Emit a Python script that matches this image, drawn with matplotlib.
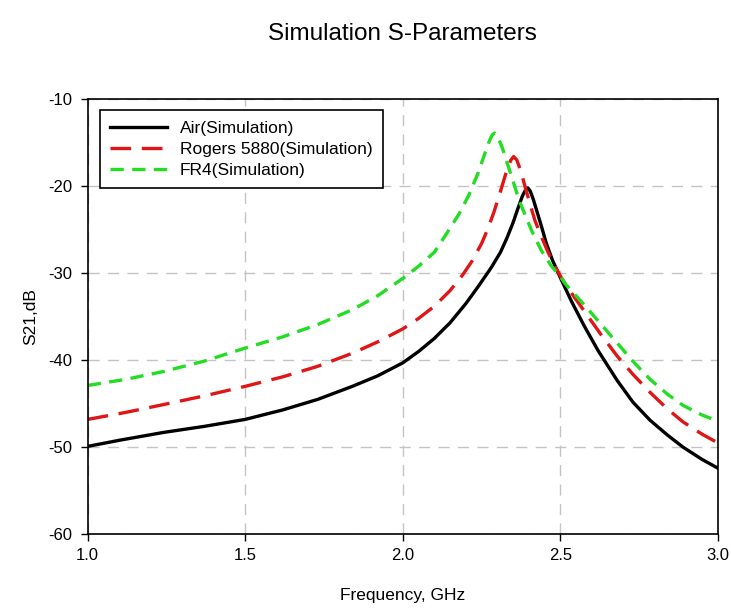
import numpy as np
import matplotlib.pyplot as plt

plt.rcParams['font.family'] = ['Liberation Sans', 'DejaVu Sans']
plt.rcParams['axes.unicode_minus'] = False

# Air (Simulation)
freq_air = [1.0, 1.1, 1.24, 1.37, 1.5, 1.62, 1.73, 1.84, 1.92, 2.0, 2.05, 2.1, 2.15,
            2.2, 2.24, 2.28, 2.31, 2.33, 2.35, 2.365, 2.38, 2.39, 2.397, 2.405, 2.415,
            2.425, 2.44, 2.455, 2.475, 2.5, 2.535, 2.575, 2.62, 2.68, 2.73, 2.785, 2.84,
            2.89, 2.95, 3.0]
s21_air = [-49.9, -49.2, -48.3, -47.6, -46.8, -45.7, -44.5, -43.0, -41.8, -40.3, -39.0, -37.5, -35.7,
           -33.5, -31.5, -29.4, -27.6, -26.0, -24.2, -22.6, -21.1, -20.4, -20.2, -20.6, -21.6,
           -22.8, -24.6, -26.5, -28.5, -30.5, -33.2, -36.0, -38.9, -42.3, -44.8, -46.9, -48.6,
           -50.0, -51.4, -52.4]

# Rogers 5880 (Simulation)
freq_rogers = [1.0, 1.12, 1.24, 1.37, 1.5, 1.62, 1.73, 1.84, 1.92, 2.0, 2.05, 2.1, 2.15,
               2.19, 2.22, 2.25, 2.27, 2.29, 2.31, 2.33, 2.343, 2.352, 2.362, 2.375, 2.39,
               2.405, 2.42, 2.44, 2.46, 2.48, 2.5, 2.52, 2.575, 2.63, 2.68, 2.73, 2.785,
               2.84, 2.89, 2.95, 3.0]
s21_rogers = [-46.8, -46.0, -45.1, -44.1, -43.0, -41.9, -40.7, -39.2, -37.9, -36.4, -35.2, -33.8, -32.0,
              -30.2, -28.6, -26.6, -24.9, -22.9, -20.6, -18.2, -17.0, -16.6, -17.0, -18.3, -20.3,
              -22.2, -24.0, -25.8, -27.5, -29.0, -30.3, -31.5, -34.3, -37.1, -39.5, -41.6, -43.7,
              -45.6, -47.1, -48.5, -49.5]

# FR4 (Simulation)
freq_fr4 = [1.0, 1.12, 1.24, 1.37, 1.5, 1.62, 1.73, 1.84, 1.92, 2.0, 2.05, 2.1, 2.14,
            2.18, 2.21, 2.24, 2.26, 2.275, 2.284, 2.292, 2.3, 2.315, 2.34, 2.37, 2.41,
            2.44, 2.47, 2.5, 2.52, 2.575, 2.63, 2.68, 2.73, 2.785, 2.84, 2.89, 2.95, 3.0]
s21_fr4 = [-42.9, -42.2, -41.3, -40.1, -38.6, -37.3, -35.9, -34.2, -32.6, -30.6, -29.2, -27.6, -25.4,
           -23.1, -21.0, -18.4, -16.3, -14.8, -14.1, -13.9, -14.2, -15.5, -18.3, -21.7, -25.2,
           -27.4, -29.1, -30.4, -31.4, -33.6, -35.9, -38.0, -40.1, -42.2, -43.9, -45.2, -46.3, -47.0]

fig = plt.figure(figsize=(7.31, 6.12), dpi=100)
ax = fig.add_axes([0.120, 0.127, 0.862, 0.711])

ax.plot(freq_air, s21_air, color='black', lw=2.4, label='Air(Simulation)')
ax.plot(freq_rogers, s21_rogers, color='#e01515', lw=2.4, dashes=(6.2, 3.2), label='Rogers 5880(Simulation)')
ax.plot(freq_fr4, s21_fr4, color='#22dd22', lw=2.4, dashes=(4.0, 2.5), label='FR4(Simulation)')

ax.set_xlim(1.0, 3.0)
ax.set_ylim(-60, -10)
ax.set_xticks(np.arange(1.0, 3.01, 0.5))
ax.set_xticklabels(['1.0', '1.5', '2.0', '2.5', '3.0'])
ax.set_yticks(range(-60, -9, 10))
ax.tick_params(direction='out', length=5, width=1, labelsize=12)
ax.tick_params(axis='x', pad=5)
ax.tick_params(axis='y', pad=6)
ax.grid(True, color='#c4c4c4', ls=(0, (8, 6)), lw=1)
for s in ax.spines.values():
    s.set_linewidth(1.2)

ax.set_xlabel('Frequency, GHz', fontsize=12.5, labelpad=18)
ax.set_ylabel('S21,dB', fontsize=12.5, labelpad=7)
fig.text(0.551, 0.945, 'Simulation S-Parameters', ha='center', va='center', fontsize=17.5)

leg = ax.legend(loc='upper left', bbox_to_anchor=(0.019, 0.975), fontsize=12.5, handlelength=3.3,
                fancybox=False, framealpha=1, edgecolor='black', borderpad=0.6,
                labelspacing=0.35, handletextpad=0.7, borderaxespad=0)
leg.get_frame().set_linewidth(1.2)

plt.savefig('out.png', dpi=100)
